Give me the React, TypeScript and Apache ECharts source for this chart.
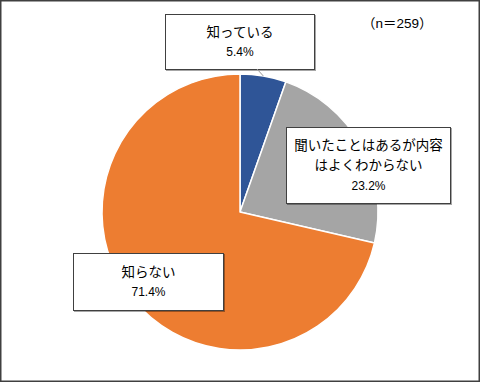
import React, { useEffect, useRef } from "react";
import * as echarts from "echarts";

const categories = ["知っている", "聞いたことはあるが内容\nはよくわからない", "知らない"];
const values = [5.4, 23.2, 71.4];
const colors = ["#2F5597", "#A5A5A5", "#ED7D31"];
const sampleNote = "（n＝259）";

// layout only
const CENTER = [240, 212];
const RADIUS = 138;
const labelPos = [
  { x: 240, y: 42 },
  { x: 368.5, y: 165.5 },
  { x: 148.5, y: 282 },
];
const labelBox = [
  { width: 148, padding: [7, 0, 7, 0] },
  { width: 163, padding: [7.5, 0, 7.5, 0] },
  { width: 149, padding: [8, 0, 8, 0] },
];
const leaderEnd = { x: 257, y: 69 };

const FONT = 'Arial, "Liberation Sans", "Noto Sans CJK JP", sans-serif';

export default function App() {
  const ref = useRef<HTMLDivElement>(null);
  useEffect(() => {
    if (!ref.current) return;
    const chart = echarts.init(ref.current, null, { renderer: "svg" });
    const total = values.reduce((a, b) => a + b, 0);
    // leader line for the first slice, from its mid-angle on the rim to its label box
    const midAngle = ((values[0] / 2) / total) * Math.PI * 2;
    const rimX = CENTER[0] + RADIUS * Math.sin(midAngle);
    const rimY = CENTER[1] - RADIUS * Math.cos(midAngle);

    const data = categories.map((name, i) => ({
      name,
      value: values[i],
      itemStyle: { color: colors[i] },
      label: { width: labelBox[i].width, padding: labelBox[i].padding },
    }));
    chart.setOption({
      animation: false,
      backgroundColor: "#ffffff",
      graphic: [
        {
          type: "rect",
          shape: { x: 0.75, y: 0.75, width: 478.5, height: 380.5 },
          style: { fill: "none", stroke: "#404040", lineWidth: 1.5 },
          silent: true,
        },
        {
          type: "text",
          left: 362,
          top: 17,
          style: { text: sampleNote, font: `13.5px ${FONT}`, fill: "#000" },
        },
        {
          type: "line",
          shape: { x1: rimX, y1: rimY, x2: leaderEnd.x, y2: leaderEnd.y },
          style: { stroke: "#9a9a9a", lineWidth: 1 },
          z: 10,
          silent: true,
        },
      ],
      series: [
        {
          type: "pie",
          center: CENTER,
          radius: [0, RADIUS],
          startAngle: 90,
          clockwise: true,
          data,
          itemStyle: { borderColor: "#ffffff", borderWidth: 1.5 },
          label: {
            show: true,
            position: "outside",
            formatter: (p: any) => `{a|${p.name}}\n{b|${p.value.toFixed(1)}%}`,
            backgroundColor: "#ffffff",
            borderColor: "#404040",
            borderWidth: 1,
            shadowColor: "rgba(0,0,0,0.35)",
            shadowOffsetX: 1,
            shadowOffsetY: 1,
            shadowBlur: 0,
            align: "center",
            rich: {
              a: { fontSize: 13.5, lineHeight: 20, color: "#000", fontFamily: FONT, align: "center" },
              b: { fontSize: 12, lineHeight: 20, color: "#000", fontFamily: FONT, align: "center" },
            },
          },
          labelLine: { show: false },
          labelLayout: (params: any) => {
            const p = labelPos[params.dataIndex];
            return { x: p.x, y: p.y, align: "center", verticalAlign: "middle", hideOverlap: false };
          },
        },
      ],
    });
    return () => chart.dispose();
  }, []);
  return (
    <div
      ref={ref}
      style={{ position: "fixed", left: 0, top: 0, width: 480, height: 382 }}
    />
  );
}
